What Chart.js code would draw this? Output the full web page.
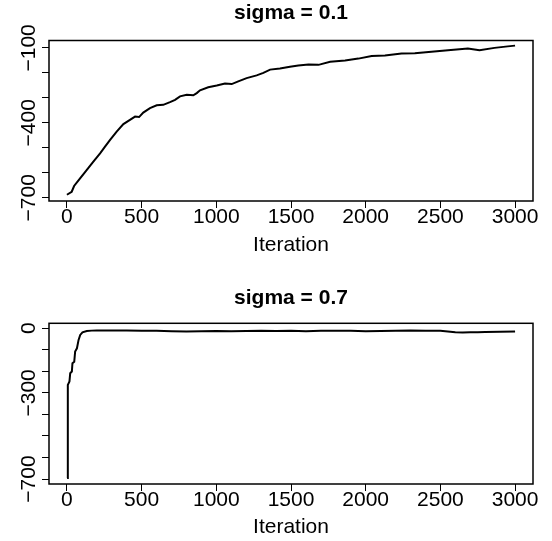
<!DOCTYPE html>
<html>
<head>
<meta charset="utf-8">
<title>sigma traces</title>
<script src="https://cdn.jsdelivr.net/npm/chart.js@4.4.1/dist/chart.umd.min.js"></script>
<style>
  html, body { margin: 0; padding: 0; background: #fff; overflow: hidden; }
  canvas { position: absolute; left: 0; }
</style>
</head>
<body>
<canvas id="panelTop" width="552" height="283" style="top:0px"></canvas>
<canvas id="panelBottom" width="552" height="258" style="top:283px"></canvas>
<script>
// values
const sigma01Iter = [0, 32, 48, 88, 132, 177, 222, 255, 289, 333, 378, 422, 456, 483, 511, 556,
  601, 645, 690, 724, 757, 802, 846, 869, 891, 946, 1003, 1058, 1103, 1147, 1203, 1270,
  1315, 1360, 1426, 1493, 1549, 1617, 1684, 1762, 1862, 1951, 2040, 2129, 2240, 2329,
  2440, 2551, 2684, 2762, 2862, 2951, 3000];
const sigma01Value = [-688, -676, -653, -622, -589, -555, -522, -495, -468, -435, -405, -388, -375, -377, -359, -341,
  -330, -328, -317, -308, -294, -288, -290, -281, -270, -258, -251, -243, -245, -234, -221, -210,
  -200, -187, -183, -176, -171, -167, -168, -156, -151, -143, -133, -131, -123, -122,
  -116, -110, -103, -109, -100, -94, -91];

const sigma07Iter = [1, 5, 7, 17, 22, 33, 37, 49, 55, 67, 78, 89, 104, 133, 166, 200, 300, 400,
  500, 600, 700, 800, 900, 1000, 1100, 1200, 1300, 1400, 1500, 1600, 1700, 1800, 1900, 2000,
  2100, 2200, 2300, 2400, 2500, 2550, 2600, 2650, 2700, 2750, 2800, 2900, 3000];
const sigma07Value = [-695, -690, -263, -247, -209, -201, -162, -155, -108, -93, -54, -31, -19, -13, -11, -10, -10, -11,
  -12, -12, -14, -15, -14, -13, -14, -13, -12, -13, -12, -14, -12, -12, -12, -14,
  -13, -12, -11, -12, -12, -15, -19, -20, -19, -18, -17, -16, -15];

const xTicks = [0, 500, 1000, 1500, 2000, 2500, 3000];
const topYTicks = [-700, -600, -500, -400, -300, -200, -100];
const topYLabels = [-100, -400, -700];
const bottomYTicks = [-700, -600, -500, -400, -300, -200, -100, 0];
const bottomYLabels = [0, -300, -700];
const panelTitles = ['sigma = 0.1', 'sigma = 0.7'];
const xTitle = 'Iteration';

const FAMILY = '"Liberation Sans", Arial, Helvetica, sans-serif';
const FONT_PX = 21;

// box around the plot region + vertical y labels, the way R draws them
const rBox = {
  id: 'rBox',
  afterDraw(chart, args, opts) {
    const { ctx, chartArea: a } = chart;
    const y = chart.scales.y;
    ctx.save();
    ctx.strokeStyle = '#000';
    ctx.lineWidth = 1.5;
    ctx.strokeRect(a.left, a.top, a.right - a.left, a.bottom - a.top);
    ctx.fillStyle = '#000';
    ctx.font = FONT_PX + 'px ' + FAMILY;
    ctx.textAlign = 'center';
    ctx.textBaseline = 'alphabetic';
    for (const v of opts.labels) {
      ctx.save();
      ctx.translate(opts.labelX, y.getPixelForValue(v));
      ctx.rotate(-Math.PI / 2);
      ctx.fillText(String(v).replace('-', '\u2212'), 0, 0);
      ctx.restore();
    }
    ctx.restore();
  }
};

function makePanel(id, p) {
  const font = { family: FAMILY, size: FONT_PX, lineHeight: 1.2 };
  const marks = { drawOnChartArea: false, drawTicks: true, tickLength: 7, color: '#000', lineWidth: 1 };
  return new Chart(document.getElementById(id), {
    type: 'line',
    data: {
      datasets: [{
        data: p.iter.map((x, i) => ({ x, y: p.value[i] })),
        borderColor: '#000',
        borderWidth: 2,
        pointRadius: 0,
        tension: 0,
        fill: false
      }]
    },
    options: {
      responsive: false,
      animation: false,
      events: [],
      layout: { padding: { left: 0, right: 19, top: 0, bottom: 0 } },
      plugins: {
        legend: { display: false },
        tooltip: { enabled: false },
        title: {
          display: true,
          text: p.title,
          fullSize: false,
          color: '#000',
          font: { family: FAMILY, size: FONT_PX, weight: 'bold', lineHeight: 1.2 },
          padding: { top: p.titleTop, bottom: p.areaTop - p.titleTop - 25.2 }
        },
        rBox: { labels: p.yLabels, labelX: 34.5 }
      },
      scales: {
        x: {
          type: 'linear',
          min: -120,
          max: 3120,
          afterBuildTicks: (s) => { s.ticks = xTicks.map((v) => ({ value: v })); },
          afterFit: (s) => { s.height = p.height - p.areaBottom; },
          grid: marks,
          border: { display: false },
          ticks: { color: '#000', font, padding: -3, maxRotation: 0, autoSkip: false, callback: (v) => String(v) },
          title: { display: true, text: xTitle, color: '#000', font, padding: { top: 0, bottom: p.xTitleBottom } }
        },
        y: {
          type: 'linear',
          min: p.yMin,
          max: p.yMax,
          afterBuildTicks: (s) => { s.ticks = p.yTicks.map((v) => ({ value: v })); },
          afterFit: (s) => { s.width = 49; },
          grid: marks,
          border: { display: false },
          ticks: { display: false }
        }
      }
    },
    plugins: [rBox]
  });
}

makePanel('panelTop', {
  iter: sigma01Iter, value: sigma01Value, title: panelTitles[0],
  yTicks: topYTicks, yLabels: topYLabels, yMin: -713, yMax: -70.5,
  height: 283, areaTop: 40.5, areaBottom: 201, titleTop: 1.1, xTitleBottom: 25
});

makePanel('panelBottom', {
  iter: sigma07Iter, value: sigma07Value, title: panelTitles[1],
  yTicks: bottomYTicks, yLabels: bottomYLabels, yMin: -723, yMax: 23,
  height: 258, areaTop: 40.3, areaBottom: 201, titleTop: 2.6, xTitleBottom: 1.4
});
</script>
</body>
</html>
